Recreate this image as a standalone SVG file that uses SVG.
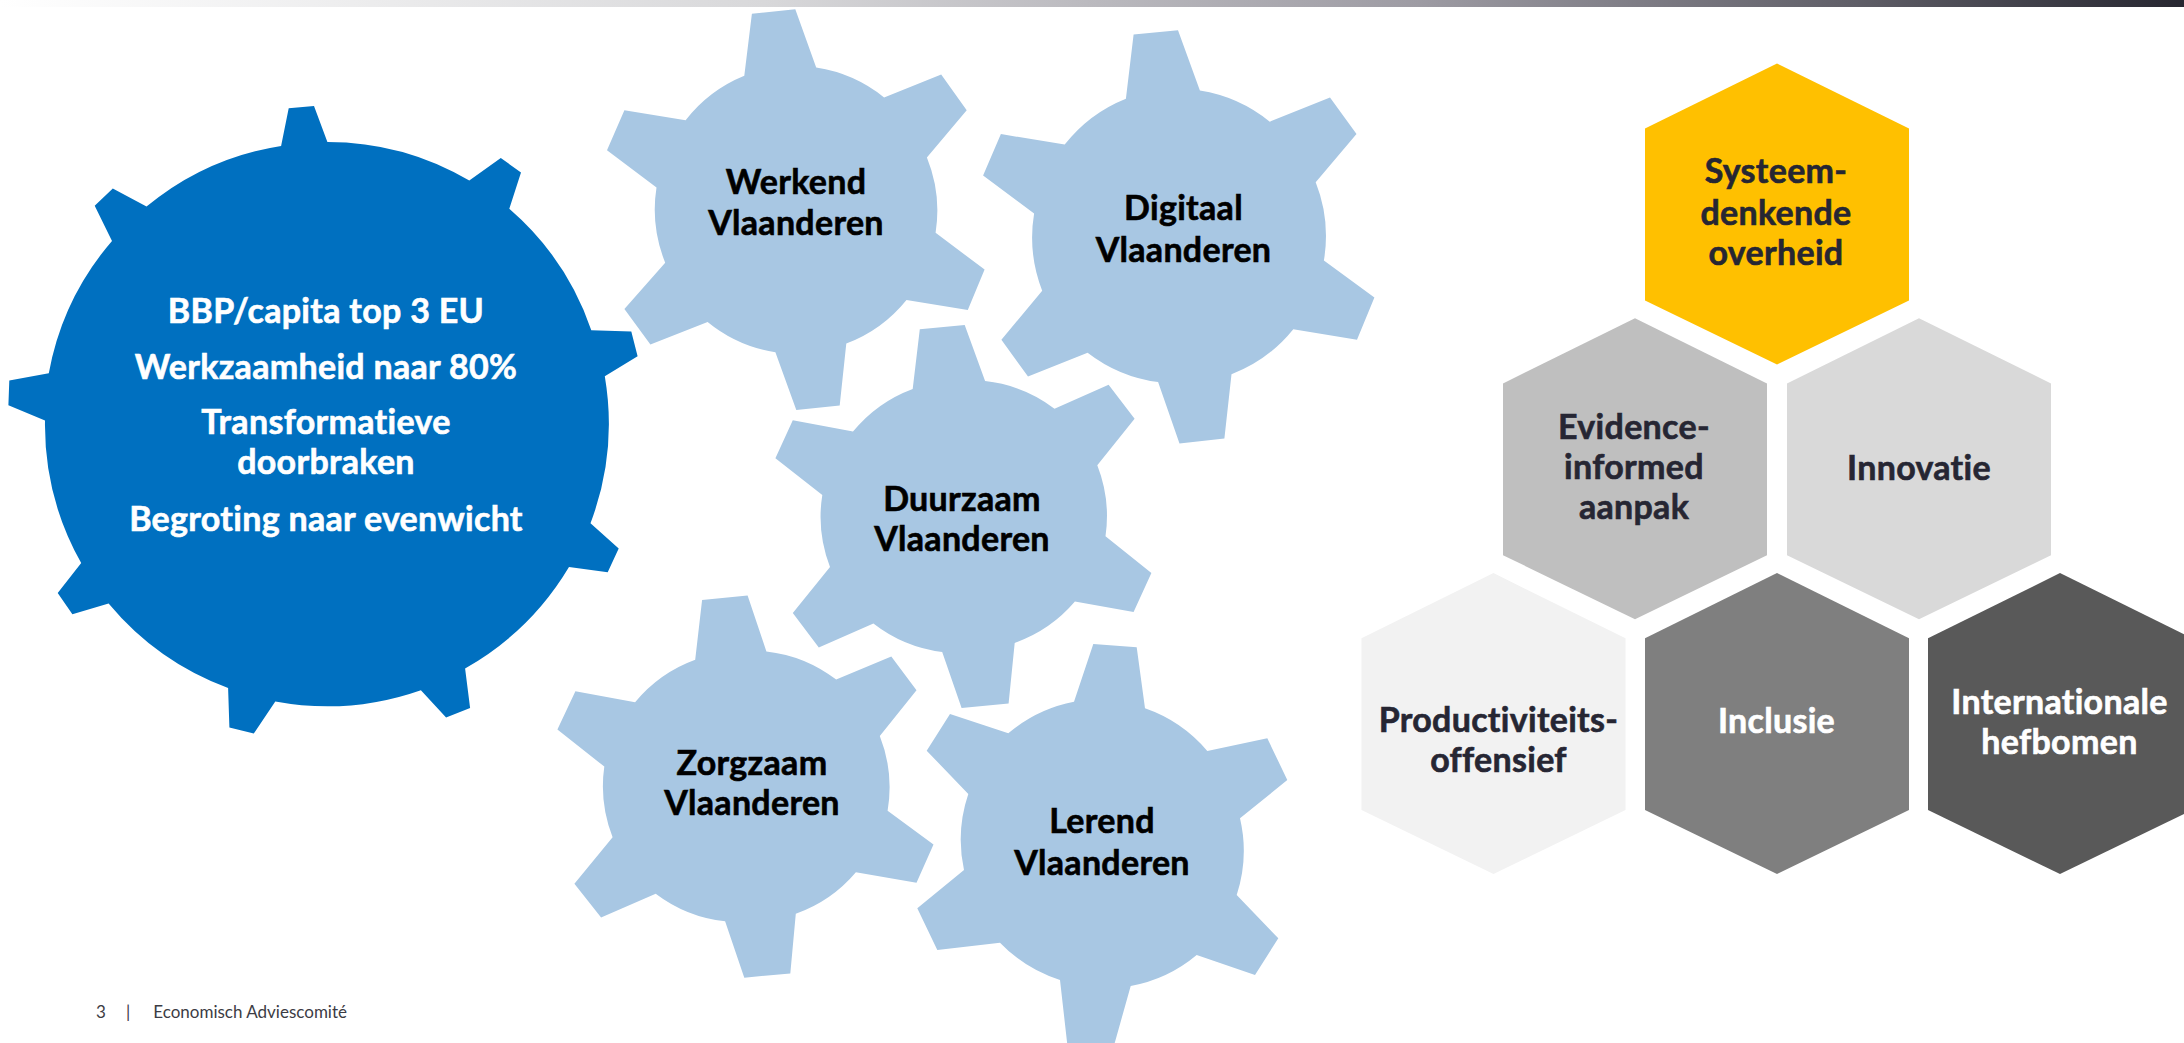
<svg xmlns="http://www.w3.org/2000/svg" width="2184" height="1043" viewBox="0 0 2184 1043">
<defs>
<linearGradient id="topbar" x1="0" y1="0" x2="1" y2="0">
<stop offset="0" stop-color="#ffffff"/>
<stop offset="0.35" stop-color="#d8d8da"/>
<stop offset="0.65" stop-color="#9d9ba3"/>
<stop offset="0.85" stop-color="#5f5e67"/>
<stop offset="1" stop-color="#262630"/>
</linearGradient>
<style>
.gear-main{fill:#0070C0;}
.gear{fill:#A8C7E3;}
.t{font-family:Lato,"Open Sans","Liberation Sans",sans-serif;font-weight:700;font-size:34px;letter-spacing:0.3px;text-anchor:middle;font-variant-ligatures:none;font-feature-settings:"liga" 0;stroke-width:0.6px;}
.tw{fill:#ffffff;stroke:#ffffff;}
.tb{fill:#000000;stroke:#000000;}
.td{fill:#262633;stroke:#262633;}
.foot{font-family:Lato,"Liberation Sans",sans-serif;font-size:17px;fill:#3c3c44;font-variant-ligatures:none;}
</style>
</defs>
<rect x="0" y="0" width="2184" height="1043" fill="#ffffff"/>
<rect x="0" y="0" width="2184" height="7" fill="url(#topbar)"/>

<g id="gear-main">
<path class="gear-main" d="M281.1,145.9 L288.7,108.2 L314.0,106.0 L327.4,142.0 A280 280 0 0 1 469.3,180.6 L500.8,158.1 L521.0,172.4 L509.3,208.8 A280 280 0 0 1 591.3,330.2 L631.3,331.5 L637.6,356.3 L604.8,376.2 A282 282 0 0 1 590.5,523.2 L618.7,548.4 L607.7,572.2 L569.0,567.0 A284 284 0 0 1 465.1,668.5 L470.1,708.0 L446.1,717.5 L420.9,690.2 A284 284 0 0 1 275.3,701.5 L253.8,733.6 L229.4,727.5 L228.1,688.0 A284 284 0 0 1 108.6,603.5 L72.4,614.3 L57.7,593.1 L81.2,563.1 A282 282 0 0 1 45.0,420.5 L8.4,405.3 L9.3,380.6 L48.8,373.2 A280 280 0 0 1 112.0,240.9 L94.7,205.8 L112.8,188.4 L146.5,206.6 A278 278 0 0 1 281.1,145.9 Z"/>
<text class="t tw" x="326" y="322.7">BBP/capita top 3 EU</text>
<text class="t tw" x="326" y="379">Werkzaamheid naar 80%</text>
<text class="t tw" x="326" y="434">Transformatieve</text>
<text class="t tw" x="326" y="474.3">doorbraken</text>
<text class="t tw" x="326" y="530.7">Begroting naar evenwicht</text>
</g>

<g id="gear-werkend">
<path class="gear" d="M744.3,75.8 L751.9,13.8 L795.3,9.2 L816.2,67.5 A142 142 0 0 1 884.1,97.4 L941.2,74.4 L966.7,110.2 L926.9,157.5 A142 142 0 0 1 935.6,232.8 L984.6,269.6 L967.8,310.0 L906.5,299.9 A142 142 0 0 1 846.3,343.5 L839.7,405.5 L796.3,410.1 L775.4,352.2 A142 142 0 0 1 707.6,321.9 L650.4,344.4 L624.4,309.0 L665.2,262.7 A142 142 0 0 1 656.5,187.4 L607.0,150.2 L624.4,110.2 L685.6,120.3 A142 142 0 0 1 744.3,75.8 Z"/>
<text class="t tb" x="796" y="193.8">Werkend</text>
<text class="t tb" x="796" y="235.1">Vlaanderen</text>
</g>

<g id="gear-digitaal">
<path class="gear" d="M1125.9,98.7 L1133.6,34.4 L1178.0,30.3 L1199.9,90.5 A147 147 0 0 1 1269.8,121.7 L1330.0,97.4 L1356.5,134.1 L1315.7,182.3 A147 147 0 0 1 1323.9,260.4 L1374.4,297.6 L1357.0,339.8 L1293.3,329.2 A147 147 0 0 1 1231.5,374.2 L1224.4,438.5 L1179.5,443.6 L1158.1,382.1 A147 147 0 0 1 1087.6,352.7 L1028.0,376.5 L1001.4,339.8 L1042.2,290.7 A147 147 0 0 1 1034.1,213.5 L983.1,175.4 L1000.9,134.1 L1064.7,144.6 A147 147 0 0 1 1125.9,98.7 Z"/>
<text class="t tb" x="1183.5" y="220.4">Digitaal</text>
<text class="t tb" x="1183.5" y="261.7">Vlaanderen</text>
</g>

<g id="gear-duurzaam">
<path class="gear" d="M912.7,388.9 L919.8,329.2 L964.7,325.1 L985.1,381.1 A140 140 0 0 1 1054.5,408.7 L1108.6,384.8 L1134.6,418.8 L1097.3,465.2 A140 140 0 0 1 1105.5,536.3 L1151.4,573.1 L1133.6,612.1 L1074.9,601.6 A140 140 0 0 1 1014.7,642.9 L1008.6,703.5 L961.6,708.1 L942.2,652.1 A140 140 0 0 1 873.4,623.6 L818.8,647.5 L792.8,613.0 L830.0,567.1 A140 140 0 0 1 822.3,495.0 L775.4,458.3 L792.8,420.2 L853.0,431.6 A140 140 0 0 1 912.7,388.9 Z"/>
<text class="t tb" x="962" y="511">Duurzaam</text>
<text class="t tb" x="962" y="551">Vlaanderen</text>
</g>

<g id="gear-zorgzaam">
<path class="gear" d="M695.2,659.7 L702.1,599.9 L747.6,595.6 L766.4,651.4 A140 140 0 0 1 836.2,679.6 L891.3,656.4 L916.5,690.2 L879.8,736.0 A140 140 0 0 1 887.6,810.7 L933.5,844.6 L916.5,882.8 L855.9,872.2 A140 140 0 0 1 795.8,913.7 L790.3,973.4 L744.3,977.7 L725.1,921.3 A140 140 0 0 1 655.7,893.7 L601.1,917.6 L574.4,883.8 L612.6,837.3 A140 140 0 0 1 604.3,766.6 L557.4,729.4 L575.4,691.2 L635.1,702.2 A140 140 0 0 1 695.2,659.7 Z"/>
<text class="t tb" x="752" y="775">Zorgzaam</text>
<text class="t tb" x="752" y="815">Vlaanderen</text>
</g>

<g id="gear-lerend">
<path class="gear" d="M1074.0,701.7 L1093.3,644.0 L1136.7,647.3 L1145.0,708.3 A143 143 0 0 1 1207.3,751.0 L1267.3,738.3 L1287.3,780.0 L1240.0,818.3 A143 143 0 0 1 1236.7,895.0 L1278.3,938.3 L1255.0,975.0 L1196.7,955.0 A143 143 0 0 1 1130.7,986.0 L1113.3,1048.0 L1067.7,1048.0 L1060.0,980.0 A143 143 0 0 1 1000.0,942.7 L937.3,950.0 L917.3,908.3 L964.0,870.0 A143 143 0 0 1 968.3,794.0 L926.7,750.7 L950.0,714.0 L1008.3,733.3 A143 143 0 0 1 1074.0,701.7 Z"/>
<text class="t tb" x="1102" y="833.3">Lerend</text>
<text class="t tb" x="1102" y="875">Vlaanderen</text>
</g>

<g id="hex-systeem">
<polygon fill="#FFC000" points="1777,63.6 1909,128.6 1909,300.5 1777,364.4 1645,300.5 1645,128.6"/>
<text class="t td" x="1776" y="183">Systeem-</text>
<text class="t td" x="1776" y="224.5">denkende</text>
<text class="t td" x="1776" y="264.5">overheid</text>
</g>

<g id="hex-evidence">
<polygon fill="#BFBFBF" points="1635,318.3 1767,383.4 1767,555.2 1635,619.2 1503,555.2 1503,383.4"/>
<text class="t td" x="1634" y="439">Evidence-</text>
<text class="t td" x="1634" y="478.5">informed</text>
<text class="t td" x="1634" y="518.5">aanpak</text>
</g>

<g id="hex-innovatie">
<polygon fill="#D9D9D9" points="1919,318.3 2051,383.4 2051,555.2 1919,619.2 1787,555.2 1787,383.4"/>
<text class="t td" x="1919" y="479.5">Innovatie</text>
</g>

<g id="hex-productiviteit">
<polygon fill="#F2F2F2" points="1493.5,573.1 1625.5,638.2 1625.5,810 1493.5,874 1361.5,810 1361.5,638.2"/>
<text class="t td" x="1498.5" y="731.5">Productiviteits-</text>
<text class="t td" x="1498.5" y="771.5">offensief</text>
</g>

<g id="hex-inclusie">
<polygon fill="#7F7F7F" points="1777,573.1 1909,638.2 1909,810 1777,874 1645,810 1645,638.2"/>
<text class="t tw" x="1776.5" y="733">Inclusie</text>
</g>

<g id="hex-internationale">
<polygon fill="#595959" points="2060,573.1 2192,638.2 2192,810 2060,874 1928,810 1928,638.2"/>
<text class="t tw" x="2059.5" y="714">Internationale</text>
<text class="t tw" x="2059.5" y="754">hefbomen</text>
</g>

<g id="connectors"/>

<g id="footer">
<text class="foot" x="96" y="1017.5">3</text>
<text class="foot" x="126" y="1017.5">|</text>
<text class="foot" x="153.3" y="1017.5">Economisch Adviescomité</text>
</g>
</svg>
